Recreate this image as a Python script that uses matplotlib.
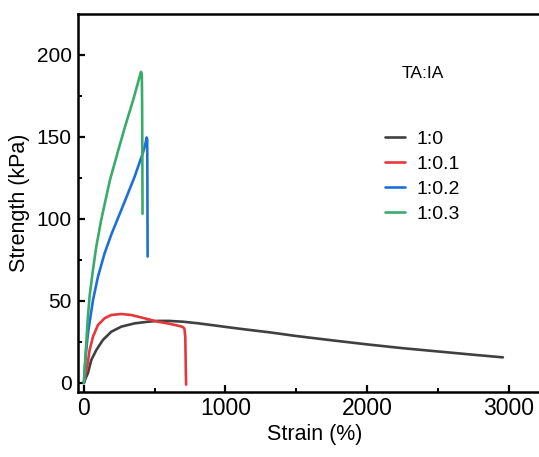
import matplotlib
matplotlib.use("Agg")
import matplotlib.pyplot as plt
from matplotlib.ticker import MultipleLocator

plt.rcParams['font.family'] = ['Liberation Sans', 'DejaVu Sans']

# Data (strain %, strength kPa)
labels = ["1:0", "1:0.1", "1:0.2", "1:0.3"]
colors = ["#404040", "#e5383b", "#1f6fdb", "#3aab6b"]

strain_10 = [0, 10, 28, 52, 87, 134, 193, 264, 358, 452, 523, 600, 700, 800, 900, 1030,
             1150, 1315, 1500, 1750, 2000, 2250, 2500, 2750, 2960]
stress_10 = [0, 2.5, 6, 14, 20, 26.2, 31.2, 34.3, 36.3, 37.3, 37.8, 37.8, 37.3, 36.4, 35.3, 33.8,
             32.5, 30.8, 28.6, 26, 23.5, 21.2, 19.2, 17.2, 15.6]

strain_11 = [0, 10, 23, 40, 64, 99, 146, 193, 264, 334, 428, 523, 608, 680, 700, 710, 716,
             718, 720, 722]
stress_11 = [0, 5, 10, 20, 28.2, 35.3, 39.4, 41.4, 42, 41.4, 39.4, 37.3, 36, 34.6, 34, 33, 28,
             18, 6, -1]

strain_12 = [0, 5, 14, 28, 42, 64, 99, 146, 196, 216, 288, 358, 400, 420, 435, 443,
             447, 448, 449, 450]
stress_12 = [0, 8, 18, 30, 38, 50.5, 64.7, 79, 91, 95.2, 110.5, 125.6, 136, 141, 146, 149.5,
             148.5, 130, 100, 77]

strain_13 = [0, 5, 12, 19, 26, 40, 64, 87, 122, 158, 185, 240, 290, 350, 403, 409, 411,
             413, 414]
stress_13 = [0, 8, 18, 28, 38, 53, 69, 83, 99.3, 113.5, 124, 141, 156, 173, 189.5, 188,
             170, 130, 103]

series_x = [strain_10, strain_11, strain_12, strain_13]
series_y = [stress_10, stress_11, stress_12, stress_13]

fig = plt.figure(figsize=(5.39, 4.57), dpi=100)
W, H = 539, 457
ax = fig.add_axes([78 / W, (H - 392) / H, 473 / W, 378 / H])

for xs, ys, c, lab in zip(series_x, series_y, colors, labels):
    ax.plot(xs, ys, color=c, lw=1.9, label=lab, solid_joinstyle='round', solid_capstyle='round')

ax.set_xlim(-42, 3300)
ax.set_ylim(-5.5, 224.7)
ax.xaxis.set_major_locator(MultipleLocator(1000))
ax.xaxis.set_minor_locator(MultipleLocator(500))
ax.yaxis.set_major_locator(MultipleLocator(50))
ax.yaxis.set_minor_locator(MultipleLocator(25))
ax.tick_params(which='major', direction='in', length=5, width=1.6)
ax.tick_params(which='minor', direction='in', length=3, width=1.4)
ax.tick_params(axis='x', labelsize=16.5, pad=3.5)
ax.tick_params(axis='y', labelsize=15, pad=4.5)
ax.tick_params(top=False, right=False)
for s in ax.spines.values():
    s.set_linewidth(1.8)

ax.set_xlabel("Strain (%)", fontsize=15.5, labelpad=3)
ax.set_ylabel("Strength (kPa)", fontsize=15.5, labelpad=5)

fig.text(423 / W, 1 - 73.5 / H, "TA:IA", fontsize=12.5, ha='center', va='center')
fig.legend(loc='upper left', bbox_to_anchor=(385 / W, 1 - 130 / H), frameon=False,
           fontsize=14, handlelength=1.05, handletextpad=0.55, labelspacing=0.39,
           borderpad=0, borderaxespad=0)

fig.savefig("out.png", dpi=100)
